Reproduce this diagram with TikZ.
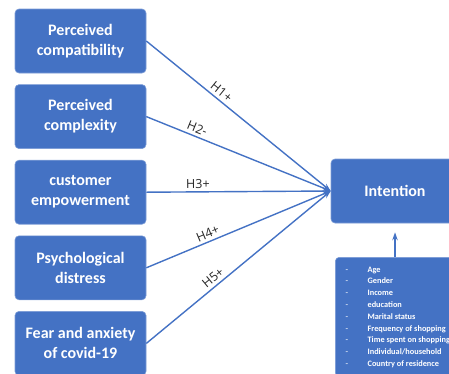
\documentclass[tikz,border=0pt]{standalone}
\usepackage{fontspec}
\setmainfont{Carlito}
\newfontfamily\hypfont{Open Sans}
\usetikzlibrary{positioning,arrows.meta}
\definecolor{ppblue}{HTML}{4472C4}

\begin{document}
\begin{tikzpicture}[x=1pt,y=-1pt,node distance=11pt]
  \tikzset{
    box/.style={draw=ppblue!70!white,line width=0.6pt,fill=ppblue,rounded corners=4pt,
      text=white,font=\bfseries\fontsize{16}{20}\selectfont,align=center,inner sep=1pt},
    factor/.style={box,minimum width=131pt,minimum height=64pt},
    hyp/.style={draw=ppblue,line width=1.4pt,->},
    hlabel/.style={font=\hypfont\fontsize{12.5}{15}\selectfont,text=black!85,sloped,above,inner sep=3pt},
    >={Stealth[length=8pt,width=5.5pt]}
  }
  \useasboundingbox (0,0) rectangle (449,373);
  \clip (0,0) rectangle (449,373);
  \node[factor] (compat) at (80.5,41) {Perceived\\compatibility};
  \node[factor,below=of compat] (complex) {Perceived\\complexity};
  \node[factor,below=of complex] (empower) {customer\\empowerment};
  \node[factor,below=of empower] (distress) {Psychological\\distress};
  \node[factor,below=of distress] (fear) {Fear and anxiety\\of covid-19};
  \node[factor,minimum width=128pt] (intention) at (395,191) {Intention};
  \node[box,anchor=north west,minimum width=125pt,inner xsep=6pt,inner ysep=6.5pt,align=left,
    font=\bfseries\fontsize{8.3}{11.8}\selectfont] (controls) at (335,257) {%
    \begin{tabular}{@{}p{22pt}@{}l@{}}
      \textcolor{white!75!ppblue}{-} & Age\\
      \textcolor{white!75!ppblue}{-} & Gender\\
      \textcolor{white!75!ppblue}{-} & Income\\
      \textcolor{white!75!ppblue}{-} & education\\
      \textcolor{white!75!ppblue}{-} & Marital status\\
      \textcolor{white!75!ppblue}{-} & Frequency of shopping\\
      \textcolor{white!75!ppblue}{-} & Time spent on shopping\\
      \textcolor{white!75!ppblue}{-} & Individual/household\\
      \textcolor{white!75!ppblue}{-} & Country of residence
    \end{tabular}};
  \draw[hyp] (compat.east) -- node[hlabel,pos=0.38] {H1+} (intention.west);
  \draw[hyp] (complex.east) -- node[hlabel,pos=0.26] {H2-} (intention.west);
  \draw[hyp] (empower.east) -- node[hlabel,pos=0.28] {H3+} (intention.west);
  \draw[hyp] (distress.east) -- node[hlabel,pos=0.35] {H4+} (intention.west);
  \draw[hyp] (fear.east) -- node[hlabel,pos=0.39] {H5+} (intention.west);
  \draw[hyp,shorten >=9pt] (controls.north -| intention.south) -- (intention.south);
\end{tikzpicture}
\end{document}
